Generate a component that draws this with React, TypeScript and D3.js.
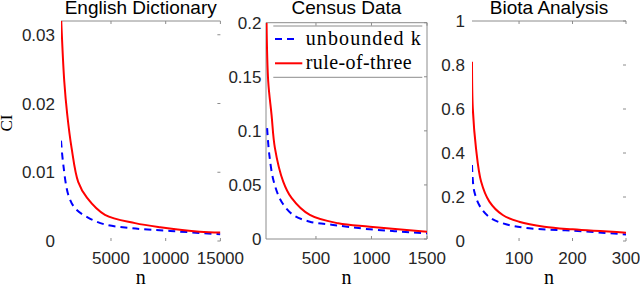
import React from "react";
import * as d3 from "d3";

// titles and tick labels
const titles = ["English Dictionary", "Census Data", "Biota Analysis"];
const dictXTicks = [5000, 10000, 15000];
const dictYTicks = [0, 0.01, 0.02, 0.03];
const censusXTicks = [500, 1000, 1500];
const censusYTicks = [0, 0.05, 0.1, 0.15, 0.2];
const biotaXTicks = [100, 200, 300];
const biotaYTicks = [0, 0.2, 0.4, 0.6, 0.8, 1];

// English Dictionary
const dictRuleN = [450, 730, 1000, 1400, 2000, 2800, 4450, 7200, 9500, 13100, 15000];
const dictRuleCI = [0.0321, 0.0232, 0.0184, 0.0135, 0.0086, 0.0063, 0.0038, 0.0026, 0.002, 0.00135, 0.00124];
const dictUnbN = [430, 640, 1100, 1700, 2900, 4450, 6900, 10400, 15000];
const dictUnbCI = [0.0146, 0.0111, 0.0067, 0.0048, 0.0034, 0.0024, 0.00185, 0.00146, 0.00098];

// Census Data
const censusRuleN = [55, 70, 100, 130, 205, 280, 445, 700, 985, 1500];
const censusRuleCI = [0.2, 0.1456, 0.1148, 0.0843, 0.0531, 0.038, 0.0222, 0.0145, 0.0114, 0.0068];
const censusUnbN = [60, 80, 120, 190, 295, 445, 655, 985, 1500];
const censusUnbCI = [0.1025, 0.0778, 0.0531, 0.0345, 0.0222, 0.016, 0.013, 0.009, 0.0053];

// Biota Analysis
const biotaRuleN = [12, 13.5, 19.5, 29, 44.5, 69.5, 100, 147, 200, 300];
const biotaRuleCI = [0.815, 0.603, 0.421, 0.27, 0.179, 0.118, 0.0877, 0.065, 0.053, 0.038];
const biotaUnbN = [12, 16.4, 29, 47.7, 75.7, 119, 200, 300];
const biotaUnbCI = [0.345, 0.224, 0.149, 0.103, 0.076, 0.058, 0.047, 0.03];

const legendLabels = ["unbounded k", "rule-of-three"];

const GRAY = "#8c8c8c";
const SANS = "Liberation Sans, Arial, sans-serif";
const SERIF = "Liberation Serif, DejaVu Serif, serif";

const zip = (xs: number[], ys: number[]) => xs.map((x, i) => [x, ys[i]] as [number, number]);

const panels = [
  {
    title: titles[0], left: 61, right: 220.4, top: 21, bottom: 241, labelRight: 55,
    xDomain: [430, 15000], yDomain: [0, 0.032], xTicks: dictXTicks, yTicks: dictYTicks,
    rule: zip(dictRuleN, dictRuleCI), unb: zip(dictUnbN, dictUnbCI), box: false, legend: false, ylabel: true,
  },
  {
    title: titles[1], left: 266, right: 427, top: 22.7, bottom: 239, labelRight: 261.5,
    xDomain: [50, 1500], yDomain: [0, 0.2], xTicks: censusXTicks, yTicks: censusYTicks,
    rule: zip(censusRuleN, censusRuleCI), unb: zip(censusUnbN, censusUnbCI), box: true, legend: true, ylabel: false,
  },
  {
    title: titles[2], left: 472, right: 626, top: 21, bottom: 241, labelRight: 465,
    xDomain: [12, 300], yDomain: [0, 1], xTicks: biotaXTicks, yTicks: biotaYTicks,
    rule: zip(biotaRuleN, biotaRuleCI), unb: zip(biotaUnbN, biotaUnbCI), box: false, legend: false, ylabel: false,
  },
];

const Panel = ({p, idx}: {p: any, idx: number}) => {
  const x = d3.scaleLinear().domain(p.xDomain).range([p.left, p.right]);
  const y = d3.scaleLinear().domain(p.yDomain).range([p.bottom, p.top]);
  const line = d3.line<[number, number]>()
    .x(d => x(d[0]))
    .y(d => y(d[1]))
    .curve(d3.curveCatmullRom.alpha(0.5));
  const cx = (p.left + p.right) / 2;
  const clipId = `clip${idx}`;

  return (
    <g>
      <defs>
        <clipPath id={clipId}>
          <rect x={p.left} y={p.top} width={p.right - p.left} height={p.bottom - p.top} />
        </clipPath>
      </defs>

      {/* frame */}
      <line x1={p.left} x2={p.right} y1={p.top} y2={p.top} stroke={GRAY} strokeWidth={1} />
      {p.box && (
        <g stroke={GRAY} strokeWidth={1}>
          <line x1={p.left} x2={p.left} y1={p.top} y2={p.bottom} />
          <line x1={p.right} x2={p.right} y1={p.top} y2={p.bottom} />
          <line x1={p.left} x2={p.right} y1={p.bottom} y2={p.bottom} />
        </g>
      )}

      {/* ticks */}
      {p.xTicks.map((t: number) => (
        <g key={`x${t}`}>
          <line x1={x(t)} x2={x(t)} y1={p.bottom} y2={p.bottom - 3} stroke={GRAY} />
          <line x1={x(t)} x2={x(t)} y1={p.top} y2={p.top + 3} stroke={GRAY} />
          <text x={x(t)} y={264} textAnchor="middle" style={{fontFamily: SANS}} fontSize={17} fill="#262626">{t}</text>
        </g>
      ))}
      {p.yTicks.map((t: number) => (
        <g key={`y${t}`}>
          <line x1={p.right} x2={p.right - 3} y1={y(t)} y2={y(t)} stroke={GRAY} />
          <text x={p.labelRight} y={y(t) + 6} textAnchor="end" style={{fontFamily: SANS}} fontSize={17} fill="#262626">{String(t)}</text>
        </g>
      ))}

      {/* curves */}
      <g clipPath={`url(#${clipId})`}>
        <path d={line(p.unb) || ""} fill="none" stroke="#0000ff" strokeWidth={2} strokeDasharray="7,5" />
        <path d={line(p.rule) || ""} fill="none" stroke="#ff0000" strokeWidth={2} />
      </g>

      {/* title and axis label */}
      <text x={cx} y={13.5} textAnchor="middle" style={{fontFamily: SANS}} fontSize={19} fill="#000">{p.title}</text>
      <text x={cx} y={284} textAnchor="middle" style={{fontFamily: SERIF}} fontSize={20} fill="#000">n</text>
      {p.ylabel && (
        <text transform="translate(12,123) rotate(-90)" textAnchor="middle" style={{fontFamily: SERIF}} fontSize={17}
              fill="#000">CI</text>
      )}

      {p.legend && (
        <g>
          <rect x={273.3} y={26} width={149} height={51.3} fill="#fff" />
          <line x1={273.3} x2={422.3} y1={26} y2={26} stroke={GRAY} />
          <line x1={273.3} x2={422.3} y1={77.3} y2={77.3} stroke={GRAY} />
          <line x1={275} x2={299} y1={39} y2={39} stroke="#0000ff" strokeWidth={2} strokeDasharray="7,5" />
          <line x1={275} x2={302.3} y1={63.3} y2={63.3} stroke="#ff0000" strokeWidth={2} />
          <text x={305.7} y={45} style={{fontFamily: SERIF}} fontSize={20} textLength={115} fill="#000">{legendLabels[0]}</text>
          <text x={305.7} y={68.5} style={{fontFamily: SERIF}} fontSize={20} textLength={106} fill="#000">{legendLabels[1]}</text>
        </g>
      )}
    </g>
  );
};

export default function App() {
  return (
    <svg width={640} height={284} style={{position: "absolute", left: 0, top: 0, background: "#fff"}}>
      <rect width={640} height={284} fill="#fff" />
      {panels.map((p, i) => <Panel key={i} p={p} idx={i} />)}
    </svg>
  );
}
